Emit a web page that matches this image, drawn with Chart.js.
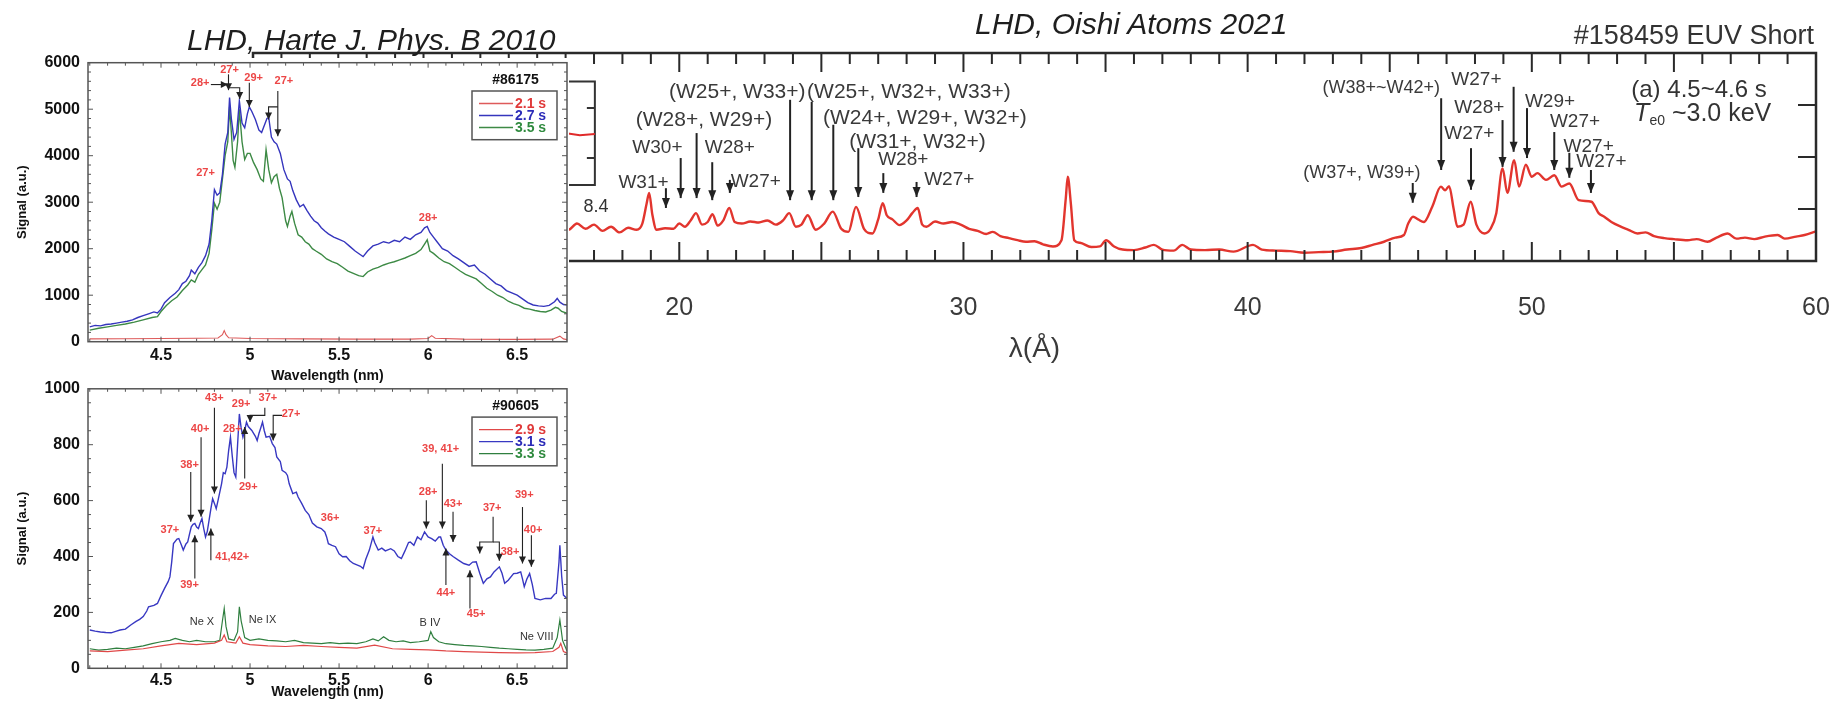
<!DOCTYPE html>
<html>
<head>
<meta charset="utf-8">
<script src="https://cdn.jsdelivr.net/npm/chart.js@4.4.1/dist/chart.umd.min.js"></script>
<style>
  html, body { margin: 0; padding: 0; background: #fff; }
  body { width: 1841px; height: 705px; position: relative; overflow: hidden; font-family: "Liberation Sans", Arial, sans-serif; }
  canvas { position: absolute; }
  #oishi { left: 0; top: 0; z-index: 1; }
  #cover { position: absolute; left: 0; top: 58px; width: 569px; height: 647px; background: #fff; z-index: 2; }
  #harteTop { left: 0; top: 40px; z-index: 3; }
  #harteBot { left: 0; top: 370px; z-index: 3; }
  .cap { position: absolute; font-style: italic; font-size: 30px; line-height: 30px; color: #1e1e1e; z-index: 4; white-space: nowrap; }
</style>
</head>
<body>
<canvas id="oishi" width="1841" height="400"></canvas>
<div id="cover"></div>
<canvas id="harteTop" width="600" height="360"></canvas>
<canvas id="harteBot" width="600" height="335"></canvas>
<div class="cap" style="left:187px; top:25px;">LHD, Harte J. Phys. B 2010</div>
<div class="cap" style="left:975px; top:9px;">LHD, Oishi Atoms 2021</div>

<script>
// ---- Harte 2010, shot #86175 (wavelength in nm, signal in a.u.) ----
const H1_BLUE_WL = [4.10,4.13,4.16,4.19,4.22,4.25,4.28,4.31,4.34,4.37,4.40,4.43,4.46,4.48,4.50,4.52,4.55,4.58,4.60,4.62,4.64,4.66,4.67,4.69,4.71,4.73,4.75,4.77,4.785,4.80,4.815,4.83,4.845,4.86,4.875,4.885,4.895,4.91,4.925,4.94,4.955,4.97,4.985,4.996,5.01,5.03,5.05,5.065,5.08,5.095,5.105,5.12,5.135,5.15,5.17,5.19,5.21,5.225,5.24,5.26,5.28,5.30,5.32,5.34,5.36,5.38,5.40,5.42,5.44,5.47,5.50,5.53,5.56,5.59,5.62,5.635,5.66,5.69,5.72,5.75,5.78,5.81,5.84,5.87,5.90,5.93,5.96,5.98,5.995,6.01,6.03,6.05,6.08,6.11,6.14,6.17,6.20,6.23,6.26,6.29,6.32,6.35,6.38,6.41,6.44,6.47,6.50,6.53,6.56,6.59,6.62,6.65,6.68,6.71,6.725,6.74,6.76,6.78];
const H1_BLUE = [320,350,340,370,380,400,420,440,470,520,560,600,640,620,700,840,950,1040,1120,1250,1300,1420,1540,1460,1600,1700,1850,2100,2600,3270,3150,3200,3600,4250,4500,5250,4800,4350,4500,5180,4700,4600,4900,5050,4950,4780,4550,4500,4650,4800,4820,4400,4300,4250,4050,3700,3500,3450,3250,3050,2900,2950,2820,2700,2600,2550,2450,2380,2320,2250,2200,2150,2050,1950,1870,1830,1950,2060,2100,2150,2120,2180,2150,2250,2200,2300,2350,2450,2480,2350,2250,2150,2000,1950,1850,1780,1700,1620,1650,1520,1450,1350,1250,1200,1100,1050,1000,920,840,790,770,760,780,860,930,850,800,790];

const H1_GREEN_WL = [4.10,4.15,4.20,4.25,4.30,4.35,4.40,4.45,4.48,4.50,4.53,4.56,4.59,4.62,4.65,4.67,4.69,4.71,4.73,4.75,4.77,4.785,4.80,4.815,4.83,4.845,4.86,4.875,4.885,4.895,4.905,4.915,4.93,4.94,4.955,4.97,4.985,5.00,5.02,5.04,5.06,5.075,5.09,5.105,5.12,5.135,5.15,5.165,5.18,5.20,5.21,5.225,5.235,5.25,5.27,5.29,5.31,5.33,5.35,5.37,5.40,5.43,5.46,5.49,5.52,5.55,5.58,5.61,5.635,5.66,5.69,5.72,5.75,5.78,5.81,5.84,5.87,5.90,5.93,5.96,5.98,5.995,6.01,6.03,6.06,6.09,6.12,6.15,6.18,6.21,6.24,6.27,6.30,6.33,6.36,6.39,6.42,6.45,6.48,6.51,6.54,6.57,6.60,6.63,6.66,6.69,6.715,6.73,6.75,6.78];
const H1_GREEN = [250,290,320,350,380,420,470,520,540,650,780,880,960,1100,1220,1330,1280,1450,1550,1650,1900,2400,2980,2850,3000,3500,4000,4300,5050,4500,3900,3750,4300,5000,4300,3920,4050,4050,3850,3700,3500,3450,4130,3700,3420,3550,3600,3300,3100,2600,2480,2700,2800,2550,2300,2250,2150,2100,2000,1950,1880,1780,1720,1680,1600,1520,1470,1420,1400,1500,1560,1600,1650,1690,1720,1760,1800,1850,1900,1980,2100,2190,1950,1900,1800,1720,1680,1600,1520,1450,1400,1350,1250,1150,1080,1000,950,870,820,780,720,700,670,650,640,680,740,720,650,610];

const H1_RED_WL = [4.10,4.30,4.50,4.70,4.82,4.845,4.855,4.865,4.88,5.00,5.30,5.60,5.90,6.00,6.02,6.04,6.20,6.50,6.70,6.74,6.76,6.78];
const H1_RED = [60,65,70,75,80,150,240,150,85,70,60,55,55,70,130,75,55,50,55,120,60,45];

const H1_X_TICKS = [4.5, 5, 5.5, 6, 6.5];
const H1_LEGEND = ['2.1 s', '2.7 s', '3.5 s'];

// annotation polylines (wavelength, signal); last segment carries the arrow head
const H1_ARROWS = [
  [[4.78, 5530], [4.875, 5530]],
  [[4.879, 5750], [4.879, 5410]],
  [[4.879, 5460], [4.942, 5460], [4.942, 5220]],
  [[4.996, 5570], [4.996, 5050]],
  [[5.156, 5390], [5.156, 4420]],
  [[5.156, 5050], [5.104, 5050], [5.104, 4780]],
];
const H1_LABELS = ['28+', '27+', '29+', '27+', '27+', '28+'];
const H1_LABEL_X = [4.72, 4.885, 5.02, 5.19, 4.75, 6.00];
const H1_LABEL_Y = [5570, 5840, 5675, 5600, 3630, 2660];

// ---- Harte 2010, shot #90605 ----
const H2_BLUE_WL = [4.10,4.13,4.16,4.19,4.22,4.25,4.27,4.30,4.33,4.36,4.38,4.40,4.42,4.43,4.46,4.48,4.50,4.52,4.54,4.55,4.56,4.57,4.59,4.60,4.615,4.625,4.64,4.65,4.66,4.67,4.68,4.69,4.70,4.71,4.72,4.73,4.74,4.75,4.76,4.77,4.78,4.79,4.80,4.81,4.82,4.84,4.85,4.86,4.87,4.88,4.89,4.90,4.91,4.92,4.93,4.94,4.95,4.96,4.97,4.98,4.99,5.01,5.03,5.04,5.05,5.06,5.07,5.08,5.09,5.11,5.125,5.14,5.15,5.17,5.18,5.20,5.21,5.22,5.24,5.26,5.27,5.29,5.31,5.33,5.35,5.375,5.40,5.42,5.43,5.44,5.46,5.48,5.50,5.52,5.54,5.56,5.58,5.60,5.62,5.635,5.65,5.67,5.69,5.70,5.72,5.74,5.76,5.79,5.81,5.83,5.85,5.87,5.89,5.90,5.92,5.94,5.96,5.98,6.00,6.02,6.04,6.06,6.07,6.085,6.10,6.12,6.14,6.17,6.20,6.23,6.25,6.27,6.29,6.31,6.33,6.35,6.37,6.40,6.415,6.43,6.45,6.48,6.50,6.52,6.53,6.54,6.555,6.57,6.585,6.60,6.63,6.66,6.69,6.71,6.72,6.735,6.74,6.75,6.76,6.78,6.79];
const H2_BLUE = [137,133,130,128,127,133,137,140,155,168,175,185,205,220,225,232,260,286,310,327,380,446,462,464,440,423,445,452,480,506,515,518,505,500,520,536,500,470,490,530,570,607,590,571,600,660,700,696,720,780,827,760,700,684,800,910,860,827,850,881,865,851,830,815,840,860,881,850,827,830,804,790,756,740,708,700,690,660,625,630,613,590,565,550,520,506,500,488,470,446,440,435,410,399,400,385,375,370,365,357,390,423,470,450,423,430,420,428,420,400,393,420,450,452,440,470,460,488,470,464,455,470,470,440,423,410,400,387,375,369,380,381,340,304,320,327,345,363,340,304,315,339,340,345,320,292,320,339,300,250,245,250,250,265,268,380,440,330,262,250,244];

const H2_GREEN_WL = [4.10,4.15,4.20,4.25,4.30,4.35,4.40,4.45,4.50,4.55,4.58,4.62,4.66,4.70,4.75,4.80,4.83,4.845,4.855,4.865,4.88,4.91,4.93,4.94,4.95,4.97,5.00,5.05,5.10,5.15,5.20,5.25,5.30,5.35,5.40,5.45,5.50,5.55,5.60,5.65,5.69,5.72,5.75,5.78,5.82,5.86,5.90,5.95,6.00,6.015,6.03,6.06,6.10,6.15,6.20,6.25,6.30,6.35,6.40,6.45,6.50,6.55,6.60,6.65,6.70,6.725,6.74,6.755,6.78,6.79];
const H2_GREEN = [70,65,68,72,70,75,80,88,95,100,107,100,95,100,95,95,100,170,214,150,105,100,130,220,170,110,100,105,100,98,95,100,92,90,88,92,88,90,88,95,105,98,113,100,95,98,92,95,100,131,110,95,88,85,82,80,78,75,72,70,68,66,65,68,72,110,173,100,62,60];

const H2_RED_WL = [4.10,4.20,4.30,4.40,4.50,4.60,4.70,4.80,4.84,4.855,4.87,4.92,4.94,4.96,5.00,5.10,5.20,5.30,5.40,5.50,5.60,5.70,5.80,5.90,6.00,6.10,6.20,6.30,6.40,6.50,6.60,6.70,6.735,6.745,6.76,6.79];
const H2_RED = [62,60,65,70,80,89,85,90,100,119,95,90,113,90,85,80,78,82,78,75,72,83,70,68,66,62,60,58,56,55,56,60,75,89,60,52];

const H2_X_TICKS = [4.5, 5, 5.5, 6, 6.5];
const H2_LEGEND = ['2.9 s', '3.1 s', '3.3 s'];

const H2_ARROWS = [
  [[4.667, 702], [4.667, 524]],
  [[4.725, 827], [4.725, 542]],
  [[4.80, 932], [4.80, 625]],
  [[4.69, 321], [4.69, 476]],
  [[4.78, 387], [4.78, 500]],
  [[4.97, 679], [4.97, 863]],
  [[5.083, 932], [5.083, 905], [5.00, 905], [5.00, 881]],
  [[5.18, 905], [5.13, 905], [5.13, 815]],
  [[5.99, 601], [5.99, 500]],
  [[6.08, 732], [6.08, 500]],
  [[6.14, 560], [6.14, 452]],
  [[6.10, 298], [6.10, 429]],
  [[6.235, 214], [6.235, 351]],
  [[6.365, 542], [6.365, 452], [6.29, 452], [6.29, 411]],
  [[6.365, 452], [6.40, 452], [6.40, 385]],
  [[6.53, 577], [6.53, 375]],
  [[6.58, 476], [6.58, 363]],
];
const H2_LABELS = ['37+','38+','40+','43+','29+','28+','37+','27+','29+','39+','41,42+','36+','37+','28+','39, 41+','43+','37+','38+','39+','40+','44+','45+'];
const H2_LABEL_X = [4.55,4.66,4.72,4.80,4.95,4.90,5.10,5.23,4.99,4.66,4.90,5.45,5.69,6.00,6.07,6.14,6.36,6.46,6.54,6.59,6.10,6.27];
const H2_LABEL_Y = [494,726,855,967,944,855,967,911,649,298,399,538,490,631,783,589,574,417,619,496,270,196];
const H2_ION_LABELS = ['Ne X', 'Ne IX', 'B IV', 'Ne VIII'];
const H2_ION_X = [4.73, 5.07, 6.01, 6.61];
const H2_ION_Y = [167, 173, 161, 113];

// ---- Oishi 2021, #158459 EUV Short (wavelength in Å, arbitrary units) ----
const OISHI_WL = [15.8,16.1,16.4,16.7,17.0,17.3,17.6,17.9,18.2,18.5,18.7,18.85,18.94,19.05,19.2,19.5,19.8,20.0,20.2,20.4,20.59,20.8,21.0,21.17,21.35,21.55,21.76,21.95,22.2,22.5,22.8,23.1,23.4,23.65,23.87,24.1,24.3,24.52,24.8,25.1,25.4,25.7,25.95,26.22,26.5,26.8,27.0,27.16,27.3,27.5,27.75,28.0,28.2,28.39,28.55,28.7,29.0,29.3,29.6,29.9,30.2,30.5,30.8,31.03,31.3,31.6,31.9,32.2,32.5,32.8,33.15,33.45,33.6,33.67,33.78,33.9,34.1,34.5,34.8,35.02,35.3,35.6,36.0,36.4,36.7,37.0,37.4,37.7,38.0,38.5,39.0,39.5,40.19,40.5,41.0,41.5,42.0,42.5,43.0,43.5,44.0,44.4,44.8,45.2,45.5,45.65,45.82,46.0,46.2,46.5,46.8,46.95,47.09,47.25,47.38,47.6,47.85,48.05,48.33,48.55,48.75,48.97,49.14,49.38,49.55,49.79,50.0,50.2,50.5,50.79,51.05,51.32,51.65,52.1,52.35,52.55,52.8,53.13,53.4,53.72,54.0,54.3,54.66,55.0,55.48,55.8,56.18,56.5,56.89,57.2,57.5,57.83,58.2,58.65,58.9,59.3,59.6,60.0];
const OISHI_SIG = [0.66,0.60,0.72,0.62,0.70,0.58,0.66,0.55,0.64,0.60,0.72,1.10,1.31,0.90,0.60,0.63,0.62,0.72,0.66,0.78,0.92,0.70,0.75,0.90,0.68,0.78,1.02,0.75,0.72,0.76,0.74,0.78,0.70,0.78,0.92,0.66,0.70,0.88,0.60,0.72,0.95,0.62,0.56,1.04,0.62,0.53,0.80,1.11,0.88,0.80,0.69,0.78,0.92,1.02,0.70,0.66,0.76,0.72,0.75,0.70,0.62,0.58,0.52,0.56,0.48,0.44,0.40,0.37,0.38,0.32,0.28,0.40,1.20,1.62,1.10,0.40,0.35,0.27,0.28,0.40,0.28,0.22,0.21,0.26,0.31,0.22,0.20,0.31,0.22,0.21,0.22,0.18,0.31,0.22,0.20,0.19,0.16,0.17,0.18,0.22,0.25,0.31,0.37,0.45,0.50,0.72,0.85,0.80,0.75,1.05,1.43,1.36,1.44,1.00,0.66,0.70,1.14,0.70,0.53,0.62,0.92,1.78,1.31,1.94,1.43,1.85,1.62,1.69,1.56,1.65,1.43,1.49,1.17,1.14,0.92,0.85,0.75,0.66,0.60,0.53,0.55,0.48,0.44,0.42,0.40,0.42,0.37,0.45,0.53,0.43,0.45,0.42,0.47,0.50,0.43,0.47,0.50,0.57];
const OISHI_X_TICKS = [20, 30, 40, 50, 60];

const OISHI_ARROW_X    = [19.53,20.05,20.61,21.16,21.78,23.90,24.66,25.42,26.30,27.18,28.35,46.81,49.36,48.97,49.83,47.86,50.79,51.32,52.08,45.81];
const OISHI_ARROW_FROM = [1.40,1.98,2.46,1.90,1.56,3.10,3.06,2.62,2.17,1.69,1.52,3.13,3.35,2.71,2.94,2.17,2.48,2.08,1.75,1.50];
const OISHI_ARROW_TO   = [1.02,1.21,1.21,1.17,1.31,1.17,1.17,1.17,1.23,1.31,1.23,1.75,2.10,1.81,1.98,1.37,1.75,1.60,1.31,1.12];
const OISHI_LABELS = ['W31+','W30+','(W28+, W29+)','W28+','W27+','(W25+, W33+)','(W25+, W32+, W33+)','(W24+, W29+, W32+)','(W31+, W32+)','W28+','W27+','(W38+~W42+)','W27+','W28+','W29+','W27+','W27+','W27+','W27+','(W37+, W39+)'];
const OISHI_LABEL_X = [18.74,19.23,20.87,21.78,22.69,22.04,28.08,28.64,28.38,27.88,29.50,44.70,48.05,48.15,50.64,47.80,51.52,52.00,52.45,44.02];
const OISHI_LABEL_Y = [1.50,2.17,2.71,2.17,1.52,3.25,3.25,2.75,2.29,1.94,1.56,3.33,3.48,2.94,3.06,2.45,2.67,2.19,1.90,1.69];

const FONT = '"Liberation Sans", Arial, sans-serif';

function toPoints(xs, ys) {
  return xs.map((x, i) => ({ x, y: ys[i] }));
}

// the grouped ion lists are set wider on the short-wavelength side, narrower near 45 Å
function oishiLabelFont(text, wl) {
  if (text.startsWith('(')) return (wl < 35 ? '21px ' : '18px ') + FONT;
  return '19px ' + FONT;
}

function arrowHead(ctx, x1, y1, x2, y2, len, half) {
  const a = Math.atan2(y2 - y1, x2 - x1);
  const bx = x2 - len * Math.cos(a), by = y2 - len * Math.sin(a);
  ctx.beginPath();
  ctx.moveTo(x2, y2);
  ctx.lineTo(bx + half * Math.sin(a), by - half * Math.cos(a));
  ctx.lineTo(bx - half * Math.sin(a), by + half * Math.cos(a));
  ctx.closePath();
  ctx.fill();
}

// frame around the plot with inward ticks
const framePlugin = {
  id: 'frame',
  afterDatasetsDraw(chart, args, o) {
    const { ctx, chartArea: a, scales: { x, y } } = chart;
    ctx.save();
    ctx.strokeStyle = o.color;
    ctx.lineWidth = o.tickWidth;
    ctx.beginPath();
    for (let v = o.xStart; v <= o.xEnd + 1e-9; v += o.xStep) {
      const major = o.xMajor.some(m => Math.abs(m - v) < 1e-6);
      const len = major ? o.majorLen : o.minorLen;
      const px = x.getPixelForValue(v);
      ctx.moveTo(px, a.bottom); ctx.lineTo(px, a.bottom - len);
      ctx.moveTo(px, a.top); ctx.lineTo(px, a.top + len);
    }
    for (let v = o.yStart; v <= o.yEnd + 1e-9; v += o.yStep) {
      const major = o.yMajor.some(m => Math.abs(m - v) < 1e-6);
      const len = major ? o.yMajorLen : o.yMinorLen;
      const py = y.getPixelForValue(v);
      if (o.leftTicks) { ctx.moveTo(a.left, py); ctx.lineTo(a.left + len, py); }
      ctx.moveTo(a.right, py); ctx.lineTo(a.right - len, py);
    }
    ctx.stroke();
    ctx.lineWidth = o.width;
    ctx.strokeRect(a.left, a.top, a.right - a.left, a.bottom - a.top);
    ctx.restore();
  }
};

// arrows and text labels placed in data coordinates
const annotatePlugin = {
  id: 'annotate',
  afterDraw(chart, args, o) {
    const { ctx, scales: { x, y } } = chart;
    ctx.save();
    ctx.strokeStyle = o.arrowColor;
    ctx.fillStyle = o.arrowColor;
    ctx.lineWidth = o.arrowWidth;
    for (const path of o.arrows) {
      const pts = path.map(([a, b]) => [x.getPixelForValue(a), y.getPixelForValue(b)]);
      ctx.beginPath();
      pts.forEach(([px, py], i) => (i ? ctx.lineTo(px, py) : ctx.moveTo(px, py)));
      ctx.stroke();
      const [p1, p2] = pts.slice(-2);
      arrowHead(ctx, p1[0], p1[1], p2[0], p2[1], o.headLen, o.headHalf);
    }
    ctx.textAlign = 'center';
    ctx.textBaseline = 'middle';
    for (const g of o.groups) {
      ctx.fillStyle = g.color;
      g.texts.forEach((t, i) => {
        ctx.font = typeof g.font === 'function' ? g.font(t, g.xs[i]) : g.font;
        ctx.fillText(t, x.getPixelForValue(g.xs[i]), y.getPixelForValue(g.ys[i]));
      });
    }
    ctx.restore();
  }
};

// boxed legend with shot number above it (top right of the left panels)
const shotLegendPlugin = {
  id: 'shotLegend',
  afterDraw(chart, args, o) {
    const { ctx, chartArea: a } = chart;
    const boxL = a.right - 95, boxR = a.right - 10, boxT = a.top + 28.3, boxB = a.top + 77;
    ctx.save();
    ctx.font = 'bold 14px ' + FONT;
    ctx.textAlign = 'center';
    ctx.textBaseline = 'middle';
    ctx.fillStyle = '#111';
    ctx.fillText(o.title, (boxL + boxR) / 2 + 1, a.top + 17);
    ctx.strokeStyle = '#555';
    ctx.lineWidth = 1.5;
    ctx.strokeRect(boxL, boxT, boxR - boxL, boxB - boxT);
    ctx.textAlign = 'left';
    o.labels.forEach((t, i) => {
      const ry = boxT + 12.5 + i * 12;
      ctx.strokeStyle = chart.data.datasets[i].borderColor;
      ctx.lineWidth = 1.3;
      ctx.beginPath(); ctx.moveTo(boxL + 7, ry); ctx.lineTo(boxL + 41, ry); ctx.stroke();
      ctx.fillStyle = o.textColors[i];
      ctx.fillText(t, boxL + 43, ry + 1);
    });
    ctx.restore();
  }
};

function harteOptions(yMax, yStep, xTicks, padTop, xAxisH, tickPad, titlePadB) {
  return {
    responsive: false,
    devicePixelRatio: 1,
    animation: false,
    layout: { autoPadding: false, padding: { top: padTop, right: 33, left: 0, bottom: 0 } },
    plugins: { legend: { display: false }, tooltip: { enabled: false } },
    elements: { point: { radius: 0 }, line: { borderWidth: 1.4, tension: 0 } },
    scales: {
      x: {
        type: 'linear', min: 4.09, max: 6.78,
        afterBuildTicks: s => { s.ticks = xTicks.map(v => ({ value: v })); },
        afterFit: s => { s.height = xAxisH; },
        grid: { display: false, drawTicks: false },
        border: { display: false },
        ticks: { padding: tickPad, color: '#111', font: { family: FONT, size: 16, weight: 'bold' }, callback: v => String(v), maxRotation: 0 },
        title: { display: true, text: 'Wavelength (nm)', color: '#111', font: { family: FONT, size: 14, weight: 'bold' }, padding: { top: 0, bottom: titlePadB } },
      },
      y: {
        min: 0, max: yMax,
        ticks: { stepSize: yStep, padding: 8, color: '#111', font: { family: FONT, size: 16, weight: 'bold' }, callback: v => String(v) },
        afterFit: s => { s.width = 88; },
        grid: { display: false, drawTicks: false },
        border: { display: false },
        title: { display: true, text: 'Signal (a.u.)', color: '#111', font: { family: FONT, size: 13, weight: 'bold' }, padding: { top: 15, bottom: 0 } },
      },
    },
  };
}

function buildHarteTop() {
  const opts = harteOptions(6000, 1000, H1_X_TICKS, 22.7, 58.3, 4.5, 15.6);
  opts.plugins.frame = { color: '#555', width: 1.5, tickWidth: 1, xStart: 4.1, xEnd: 6.7, xStep: 0.1, xMajor: H1_X_TICKS, majorLen: 5, minorLen: 3,
    yStart: 200, yEnd: 5800, yStep: 200, yMajor: [1000, 2000, 3000, 4000, 5000], yMajorLen: 5, yMinorLen: 3, leftTicks: true };
  opts.plugins.annotate = {
    arrowColor: '#222', arrowWidth: 1.1, headLen: 7, headHalf: 3.5, arrows: H1_ARROWS,
    groups: [{ texts: H1_LABELS, xs: H1_LABEL_X, ys: H1_LABEL_Y, color: '#ec4646', font: 'bold 11px ' + FONT }],
  };
  opts.plugins.shotLegend = { title: '#86175', labels: H1_LEGEND, textColors: ['#e03a3a', '#2b2bb8', '#2f8a3e'] };

  new Chart(document.getElementById('harteTop'), {
    type: 'line',
    data: {
      datasets: [
        { data: toPoints(H1_RED_WL, H1_RED), borderColor: '#de5a5a', borderWidth: 1.1 },
        { data: toPoints(H1_BLUE_WL, H1_BLUE), borderColor: '#3535bd' },
        { data: toPoints(H1_GREEN_WL, H1_GREEN), borderColor: '#3d8a45' },
      ],
    },
    options: opts,
    plugins: [framePlugin, annotatePlugin, shotLegendPlugin],
  });
}

function buildHarteBottom() {
  const opts = harteOptions(1000, 200, H2_X_TICKS, 18.8, 36.7, 2.7, 4.6);
  opts.plugins.frame = { color: '#555', width: 1.5, tickWidth: 1, xStart: 4.1, xEnd: 6.7, xStep: 0.1, xMajor: H2_X_TICKS, majorLen: 5, minorLen: 3,
    yStart: 50, yEnd: 950, yStep: 50, yMajor: [200, 400, 600, 800], yMajorLen: 5, yMinorLen: 3, leftTicks: true };
  opts.plugins.annotate = {
    arrowColor: '#222', arrowWidth: 1.1, headLen: 7, headHalf: 3.5, arrows: H2_ARROWS,
    groups: [
      { texts: H2_LABELS, xs: H2_LABEL_X, ys: H2_LABEL_Y, color: '#ec4646', font: 'bold 11px ' + FONT },
      { texts: H2_ION_LABELS, xs: H2_ION_X, ys: H2_ION_Y, color: '#333', font: '11px ' + FONT },
    ],
  };
  opts.plugins.shotLegend = { title: '#90605', labels: H2_LEGEND, textColors: ['#e03a3a', '#2b2bb8', '#2f8a3e'] };

  new Chart(document.getElementById('harteBot'), {
    type: 'line',
    data: {
      datasets: [
        { data: toPoints(H2_RED_WL, H2_RED), borderColor: '#e04848', borderWidth: 1.2 },
        { data: toPoints(H2_BLUE_WL, H2_BLUE), borderColor: '#3838c2' },
        { data: toPoints(H2_GREEN_WL, H2_GREEN), borderColor: '#2f7f3f', borderWidth: 1.2 },
      ],
    },
    options: opts,
    plugins: [framePlugin, annotatePlugin, shotLegendPlugin],
  });
}

// header texts, shot info and the partly hidden inset of the Oishi panel
const oishiExtrasPlugin = {
  id: 'oishiExtras',
  afterDraw(chart) {
    const { ctx, chartArea: a, scales: { x, y } } = chart;
    ctx.save();
    ctx.fillStyle = '#333';
    ctx.textBaseline = 'middle';
    ctx.textAlign = 'right';
    ctx.font = '27px ' + FONT;
    ctx.fillText('#158459 EUV Short', a.right - 2, a.top - 16);

    ctx.textAlign = 'left';
    ctx.font = '24px ' + FONT;
    ctx.fillText('(a) 4.5~4.6 s', x.getPixelForValue(53.5), y.getPixelForValue(3.28));
    let tx = x.getPixelForValue(53.6);
    const ty = y.getPixelForValue(2.83);
    ctx.font = 'italic 25px ' + FONT;
    ctx.fillText('T', tx, ty);
    tx += ctx.measureText('T').width;
    ctx.font = '14px ' + FONT;
    ctx.fillText('e0', tx, ty + 7);
    tx += ctx.measureText('e0').width;
    ctx.font = '25px ' + FONT;
    ctx.fillText(' ~3.0 keV', tx, ty);

    // inset remnant near the left edge
    ctx.strokeStyle = '#333';
    ctx.lineWidth = 2;
    const r = x.getPixelForValue(17.03), l = x.getPixelForValue(15.5);
    const t = y.getPixelForValue(3.45), b = y.getPixelForValue(1.46);
    ctx.beginPath();
    ctx.moveTo(l, t); ctx.lineTo(r, t); ctx.lineTo(r, b); ctx.lineTo(l, b);
    for (const v of [2.94, 1.98]) { ctx.moveTo(r, y.getPixelForValue(v)); ctx.lineTo(r - 8, y.getPixelForValue(v)); }
    ctx.stroke();
    ctx.strokeStyle = '#e02a2a';
    ctx.beginPath();
    ctx.moveTo(l, y.getPixelForValue(2.5));
    ctx.lineTo(x.getPixelForValue(16.5), y.getPixelForValue(2.42));
    ctx.lineTo(r, y.getPixelForValue(2.44));
    ctx.stroke();
    ctx.font = '18px ' + FONT;
    ctx.textAlign = 'center';
    ctx.fillText('8.4', x.getPixelForValue(17.07), y.getPixelForValue(1.04));
    ctx.restore();
  }
};

function buildOishi() {
  const arrows = OISHI_ARROW_X.map((w, i) => [[w, OISHI_ARROW_FROM[i]], [w, OISHI_ARROW_TO[i]]]);
  new Chart(document.getElementById('oishi'), {
    type: 'line',
    data: {
      datasets: [{ data: toPoints(OISHI_WL, OISHI_SIG), borderColor: '#e2352e', borderWidth: 2.4, pointRadius: 0, cubicInterpolationMode: 'monotone' }],
    },
    options: {
      responsive: false,
      devicePixelRatio: 1,
      animation: false,
      layout: { autoPadding: false, padding: { left: 253, top: 53, right: 25, bottom: 0 } },
      plugins: {
        legend: { display: false },
        tooltip: { enabled: false },
        frame: { color: '#2a2a2a', width: 2.5, tickWidth: 2, xStart: 6, xEnd: 59, xStep: 1, xMajor: [10, 15, 20, 25, 30, 35, 40, 45, 50, 55], majorLen: 19, minorLen: 11,
          yStart: 1, yEnd: 3, yStep: 1, yMajor: [1, 2, 3], yMajorLen: 18, yMinorLen: 18, leftTicks: false },
        annotate: {
          arrowColor: '#222', arrowWidth: 2, headLen: 10, headHalf: 4, arrows,
          groups: [{ texts: OISHI_LABELS, xs: OISHI_LABEL_X, ys: OISHI_LABEL_Y, color: '#3a3a3a', font: oishiLabelFont }],
        },
      },
      scales: {
        x: {
          type: 'linear', min: 5, max: 60,
          afterBuildTicks: s => { s.ticks = OISHI_X_TICKS.map(v => ({ value: v })); },
          afterFit: s => { s.height = 139; },
          grid: { display: false, drawTicks: false },
          border: { display: false },
          // tick padding would also widen the right margin, so the labels are pushed down by line height
          ticks: { padding: 0, color: '#3a3a3a', font: { family: FONT, size: 25, lineHeight: 3.76 }, maxRotation: 0 },
          title: { display: true, text: 'λ(Å)', color: '#3a3a3a', font: { family: FONT, size: 28 }, padding: { top: 0, bottom: 34 } },
        },
        y: { display: false, min: 0, max: 4 },
      },
    },
    plugins: [framePlugin, annotatePlugin, oishiExtrasPlugin],
  });
}

buildOishi();
buildHarteTop();
buildHarteBottom();
</script>
</body>
</html>
